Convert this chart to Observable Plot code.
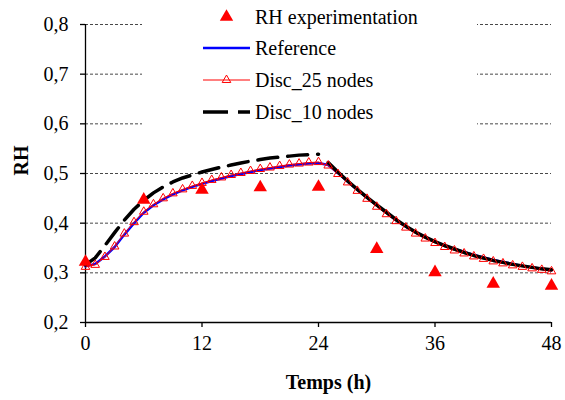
<!DOCTYPE html>
<html><head><meta charset="utf-8">
<script src="https://cdn.jsdelivr.net/npm/d3@7"></script>
<script src="https://cdn.jsdelivr.net/npm/@observablehq/plot@0.6"></script>
<style>
body{margin:0;background:#fff;}
#wrap{position:relative;width:565px;height:400px;overflow:hidden;}
#legend{position:absolute;left:142px;top:0;}
</style></head><body><div id="wrap"></div>
<script>
const hours = [0,1,2,3,4,5,6,7,8,9,10,11,12,13,14,15,16,17,18,19,20,21,22,23,24,25,26,27,28,29,30,31,32,33,34,35,36,37,38,39,40,41,42,43,44,45,46,47,48];
const reference = [0.313,0.318,0.333,0.352,0.377,0.400,0.421,0.436,0.448,0.458,0.466,0.473,0.479,0.485,0.490,0.495,0.499,0.503,0.507,0.510,0.513,0.516,0.518,0.520,0.521,0.517,0.501,0.484,0.467,0.451,0.436,0.421,0.406,0.393,0.382,0.372,0.363,0.355,0.348,0.342,0.336,0.331,0.326,0.322,0.318,0.314,0.311,0.308,0.305];
const disc25 = [0.312,0.316,0.332,0.353,0.379,0.402,0.423,0.438,0.450,0.460,0.468,0.475,0.481,0.487,0.492,0.497,0.501,0.505,0.509,0.512,0.515,0.518,0.520,0.522,0.523,0.516,0.499,0.482,0.465,0.449,0.433,0.418,0.404,0.391,0.379,0.369,0.360,0.352,0.345,0.339,0.333,0.328,0.323,0.319,0.315,0.312,0.309,0.306,0.303];
const disc10 = [0.316,0.330,0.355,0.381,0.406,0.428,0.446,0.461,0.473,0.483,0.491,0.497,0.503,0.508,0.513,0.517,0.521,0.525,0.528,0.531,0.533,0.535,0.537,0.538,0.539,0.522,0.503,0.485,0.468,0.452,0.437,0.422,0.407,0.394,0.382,0.372,0.363,0.355,0.348,0.341,0.335,0.330,0.325,0.321,0.317,0.314,0.311,0.308,0.306];
const expHours = [0,6,12,18,24,30,36,42,48];
const expRH = [0.322,0.447,0.467,0.472,0.473,0.348,0.301,0.278,0.274];
const xTicks = [0,12,24,36,48];
const yTicks = [0.2,0.3,0.4,0.5,0.6,0.7,0.8];
const gridY = [0.3,0.4,0.5,0.6,0.7,0.8];
const legendLabels = ["RH experimentation","Reference","Disc_25 nodes","Disc_10 nodes"];

const fmt = d => d.toFixed(1).replace(".", ",");
const refData = hours.map((h,i)=>({h, v:reference[i]}));
const d25Data = hours.map((h,i)=>({h, v:disc25[i]}));
const d10Data = hours.map((h,i)=>({h, v:disc10[i]}));
const expData = expHours.map((h,i)=>({h, v:expRH[i]}));
const font = "'Liberation Serif','Times New Roman',serif";

const plot = Plot.plot({
  width:565, height:400,
  marginLeft:85, marginRight:14, marginTop:24, marginBottom:78,
  style:{fontFamily:font, fontSize:"20px", color:"#000", background:"#fff", overflow:"visible"},
  x:{domain:[0,48]},
  y:{domain:[0.2,0.8]},
  marks:[
    Plot.ruleY(gridY,{stroke:"#333", strokeDasharray:"3,2", strokeWidth:0.9}),
    Plot.axisY(yTicks,{tickSize:5, tickPadding:12, tickFormat:fmt, label:null, strokeWidth:1.3, fontSize:20}),
    Plot.axisX(xTicks,{tickSize:5, tickPadding:8, label:null, strokeWidth:1.3, fontSize:20}),
    Plot.ruleX([0],{stroke:"#000", strokeWidth:1.3}),
    Plot.ruleY([0.2],{stroke:"#000", strokeWidth:1.3}),
    Plot.line(refData,{x:"h", y:"v", stroke:"#0000ff", strokeWidth:2.5}),
    Plot.line(d25Data,{x:"h", y:"v", stroke:"#ff0000", strokeWidth:1}),
    Plot.line(d10Data.filter(d=>d.h<=24),{x:"h", y:"v", stroke:"#000", strokeWidth:3.5, strokeDasharray:"20,10"}),
    Plot.line(d10Data.filter(d=>d.h>=25),{x:"h", y:"v", stroke:"#000", strokeWidth:3.5}),
    Plot.dot(d25Data,{x:"h", y:"v", symbol:"triangle", r:3.2, stroke:"#ff0000", fill:"none", strokeWidth:1}),
    Plot.dot(expData,{x:"h", y:"v", symbol:"triangle", r:5, fill:"#ff0000", stroke:"none"}),
    Plot.text(["Temps (h)"],{frameAnchor:"bottom", dx:10, dy:66, fontWeight:"bold", fontSize:20}),
    Plot.text(["RH"],{frameAnchor:"left", dx:-64, dy:2, rotate:-90, fontWeight:"bold", fontSize:20})
  ]
});
const wrap = document.getElementById("wrap");
wrap.appendChild(plot);

// legend box (white, hides grid lines behind it like the original)
const lg = d3.select(wrap).append("svg").attr("id","legend")
  .attr("width",335).attr("height",136)
  .style("background","#fff");
const rowsY = [17,48,80,112];
const x0 = 61, x1 = 108, tx = 113;
const g = lg.append("g").attr("font-family",font).attr("font-size",20);
legendLabels.forEach((t,i)=>{
  g.append("text").attr("x",tx).attr("y",rowsY[i]).attr("dy","0.35em").text(t);
});
const tri = d3.symbol(d3.symbolTriangle);
g.append("path").attr("d", tri.size(78)()).attr("transform",`translate(${(x0+x1)/2},${rowsY[0]})`).attr("fill","#ff0000");
g.append("line").attr("x1",x0).attr("x2",x1).attr("y1",rowsY[1]).attr("y2",rowsY[1]).attr("stroke","#0000ff").attr("stroke-width",2.5);
g.append("line").attr("x1",x0).attr("x2",x1).attr("y1",rowsY[2]).attr("y2",rowsY[2]).attr("stroke","#ff0000").attr("stroke-width",1);
g.append("path").attr("d", tri.size(32)()).attr("transform",`translate(${(x0+x1)/2},${rowsY[2]})`).attr("fill","none").attr("stroke","#ff0000");
g.append("line").attr("x1",x0).attr("x2",x1).attr("y1",rowsY[3]).attr("y2",rowsY[3]).attr("stroke","#000").attr("stroke-width",3.5).attr("stroke-dasharray","25,10");
</script>
</body></html>
